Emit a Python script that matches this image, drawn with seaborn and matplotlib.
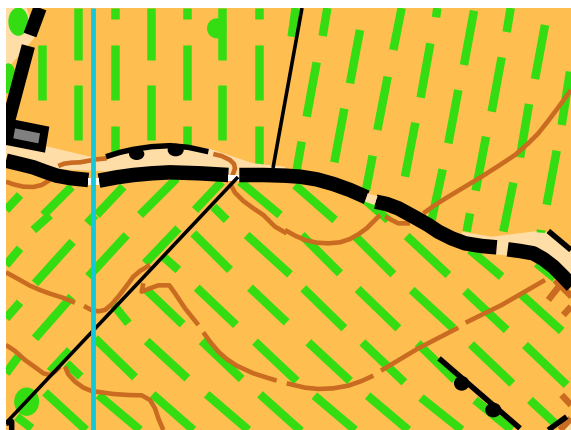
import matplotlib
matplotlib.use("Agg")
import matplotlib.pyplot as plt
import pandas as pd
import seaborn as sns
from matplotlib.patches import Polygon, Ellipse

Q1 = (0, 0); Q2 = (285, 0); Q3 = (0, 215); Q4 = (285, 215)

green_q1 = [(127,135,127,300),(235,24,235,180),(235,256,235,420),(344,24,344,57),(344,135,344,300),
            (344,378,344,470),(452,24,452,180),(452,256,452,420),(560,24,560,57),(560,135,560,300),
            (560,378,560,450),(667,24,667,180),(667,256,667,420),(776,24,776,57),(776,135,776,300),
            (776,378,776,500),(60,585,18,630),(215,560,130,645),(370,560,290,645),(530,535,420,645),
            (665,545,585,630),(640,620,680,660),(720,545,840,645)]
green_q2 = [(32,24,20,110),(127,24,113,108),(225,90,195,250),(350,24,325,150),(457,24,453,52),(567,32,537,195),
            (677,24,665,96),(780,75,750,237),(95,187,65,350),(308,230,277,390),(436,130,407,293),
            (650,172,620,335),(855,215,830,375),(178,326,148,487),(391,368,360,530),(520,270,490,430),
            (732,312,705,472),(50,425,35,510),(263,467,243,570),(603,410,572,572),(815,452,785,614),
            (473,508,440,660),(685,548,655,695),(555,640,545,695),(30,555,150,660),(240,600,310,660)]
green_q3 = [(150,0,100,45),(218,80,105,205),(380,60,265,185),(535,40,435,145),(60,100,18,150),
            (60,262,18,310),(215,245,105,370),(55,425,18,475),(210,405,150,470),(285,0,262,25),
            (580,55,690,165),(740,60,870,178),(590,218,708,330),(750,218,860,322),(440,225,548,328),
            (335,262,385,325),(490,125,535,165),(285,370,405,487),(440,378,562,490),(605,378,725,492),
            (765,380,890,498),(200,445,242,485),(135,532,258,645),(295,540,420,645),(458,538,580,645),
            (620,538,745,645),(780,538,905,650),(50,605,95,640)]
green_q4 = [(50,60,165,175),(212,65,325,178),(365,63,490,180),(555,105,650,185),(55,220,178,340),
            (218,222,340,340),(380,225,505,340),(540,228,665,345),(705,235,830,348),(70,382,195,498),
            (232,382,358,502),(398,385,510,495),(558,388,682,506),(720,390,845,510),(88,542,210,645),
            (248,542,370,645),(408,548,530,645),(570,555,680,645),(735,555,810,625),(755,145,810,190)]

road_q1 = [[(18,482),(60,492),(100,502),(135,515),(170,527),(215,535),(265,540)],
           [(297,542),(350,532),(400,525),(455,520),(510,517),(600,520),(685,525)],
           [(718,525),(790,525),(855,527),(900,530),(950,538),(1000,552),(1050,570),(1100,592)]]
road_q2 = [[(272,605),(305,612),(340,625),(395,655),(430,675),(460,695),(500,715),(540,730),(590,738),(635,742)]]
road_q4 = [[(668,103),(705,108),(745,115),(775,132),(805,155),(835,185),(870,222)]]
road_top_q1 = [[(120,24),(90,105)],[(85,138),(18,390)]]

brown_wide_q1 = [[(18,545),(40,553),(70,560),(100,561),(125,555),(150,540)],
                 [(175,498),(192,491),(215,488),(240,487),(262,483),(290,478),(320,475)],
                 [(640,462),(665,468),(690,480),(702,492),(705,505),(698,525),(690,545)],
                 [(690,550),(705,578),(730,603),(760,625),(790,645),(825,680),(860,700)]]
brown_wide_q2 = [[(415,640),(450,615),(490,590),(540,560),(590,530),(640,498),(690,465),(730,430),(760,400),
                  (790,362),(820,322),(858,270)]]
brown_wide_q3 = [[(195,455),(205,478),(225,500),(250,518),(275,528),(340,537),(385,540),(425,541),(450,555),
                  (465,580),(475,610),(490,645)],
                 [(252,273),(272,284),(295,289),(315,285),(335,268),(355,245),(378,215),(400,185),(420,168),(450,150)],
                 [(430,205),(425,230),(450,220),(475,211),(508,211),(525,235),(555,280),(595,330)],
                 [(610,352),(630,380),(655,410),(680,432),(710,452),(760,475),(830,497)],
                 [(18,172),(60,195),(90,212),(120,225),(150,236),(185,247),(225,263)],
                 [(18,390),(45,408),(75,435),(110,460),(130,475),(150,480),(165,470),(180,455)]]
brown_wide_q4 = [[(0,45),(30,62),(60,75),(95,83),(130,85),(165,82),(195,72),(220,58),(245,40),(265,20),(285,0)],
                 [(300,5),(340,25),(375,25)],
                 [(5,505),(60,518),(100,522),(145,520),(190,512),(230,498),(265,482)],
                 [(288,467),(400,400),(520,338)],[(542,323),(650,270),(780,195)]]
brown_thick_q4 = [[(810,195),(860,245)],[(825,210),(790,255)],[(858,275),(835,300)],
                  [(830,540),(858,570)],[(825,645),(858,610)]]

thin_black = [[(302,8),(273,168)],[(238,177),(6,423)]]
edge_q1 = [[(318,470),(360,457),(400,448),(455,440),(510,437),(565,442),(625,455)]]
edge_q4 = [[(462,430),(705,640)],[(790,48),(858,105)],[(790,645),(845,605)]]
edge_q3 = [[(18,625),(35,620),(35,645)]]

beige_q1 = [(18,24),(80,24),(105,110),(85,135),(18,210)]
beige_road_q1 = [(18,435),(145,440),(270,470),(320,480),(400,440),(510,430),(625,445),(760,490),(855,500),
                 (855,540),(18,500)]
beige_road_q4 = [(530,50),(620,65),(760,48),(810,55),(870,115),(870,200),(800,150),(700,125),(630,118),(540,90)]
beige_gap_q2 = [(248,580),(278,588),(268,615),(240,605)]
beige_corner_q4 = [(845,615),(860,605),(860,645),(835,645)]
green_sliver_q4 = [(755,43),(782,47),(780,54),(755,52)]
white_gaps_q1 = [[(265,535),(297,535),(297,556),(265,556)],[(685,525),(718,525),(718,542),(685,542)]]
building_q1 = [(48,360),(148,380),(135,458),(18,435),(18,365)]
roof_q1 = [(45,385),(120,400),(115,430),(40,415)]
blobs_q1 = [(55,65,60,85),(25,235,45,90),(650,85,58,60)]
blobs_q3 = [(80,560,75,85)]
bumps_q1 = [(410,462,46,36),(527,450,48,38)]
bumps_q4 = [(530,505,46,44),(625,585,48,44)]

ORANGE, GREEN, BEIGE = "#FFBE50", "#33DD11", "#FFDDA6"
BROWN, CYAN, BLACK, GREY = "#C96B20", "#14C8DC", "#000000", "#808080"


def conv(origin, p):
    return (origin[0] + p[0] / 3, origin[1] + p[1] / 3)


def frame(groups):
    rows = []
    for g, path in enumerate(groups):
        rows += [{"seg": g, "x": x, "y": y} for x, y in path]
    return pd.DataFrame(rows)


def draw(groups, color, px, z, cap="butt"):
    sns.lineplot(data=frame(groups), x="x", y="y", units="seg", estimator=None, sort=False,
                 color=color, linewidth=px * 0.72, solid_capstyle=cap, solid_joinstyle="round",
                 zorder=z, legend=False, ax=ax)


def zpaths(origin, paths):
    return [[conv(origin, p) for p in path] for path in paths]


def zdash(origin, dashes):
    return [[conv(origin, d[:2]), conv(origin, d[2:])] for d in dashes]


def poly(origin, pts, color, z):
    ax.add_patch(Polygon([conv(origin, p) for p in pts], closed=True, fc=color, ec="none", zorder=z))


def blob(origin, b, color, z):
    ax.add_patch(Ellipse(conv(origin, b[:2]), b[2] / 3, b[3] / 3, fc=color, ec="none", zorder=z))


sns.set_theme(style="white")
fig = plt.figure(figsize=(5.71, 4.30), dpi=100, facecolor="white")
ax = fig.add_axes([6 / 571, 0, 565 / 571, 422 / 430])
ax.set_facecolor(ORANGE)

for o, b in [(Q1, x) for x in blobs_q1] + [(Q3, x) for x in blobs_q3]:
    blob(o, b, GREEN, 1)

dashes = (zdash(Q1, green_q1) + zdash(Q2, green_q2) + zdash(Q3, green_q3) + zdash(Q4, green_q4))
draw(dashes, GREEN, 8.5, 2)

poly(Q1, beige_q1, BEIGE, 1.5)
for b in blobs_q1[:2]:
    blob(Q1, b, GREEN, 1.6)
poly(Q1, beige_road_q1, BEIGE, 3)
poly(Q4, beige_road_q4, BEIGE, 3)
poly(Q4, beige_corner_q4, BEIGE, 3)
poly(Q4, green_sliver_q4, GREEN, 3.5)
poly(Q2, beige_gap_q2, BEIGE, 6)
for w in white_gaps_q1:
    poly(Q1, w, "white", 6)

brown = (zpaths(Q1, brown_wide_q1) + zpaths(Q2, brown_wide_q2) + zpaths(Q3, brown_wide_q3)
         + zpaths(Q4, brown_wide_q4))
draw(brown, BROWN, 4.6, 4)
draw(zpaths(Q4, brown_thick_q4), BROWN, 6.5, 4)

draw(zpaths(Q1, road_q1) + zpaths(Q2, road_q2) + zpaths(Q4, road_q4), BLACK, 14.5, 5)
draw(zpaths(Q1, road_top_q1), BLACK, 13.5, 5)
draw(thin_black, BLACK, 3.6, 6)
draw(zpaths(Q1, edge_q1) + zpaths(Q4, edge_q4) + zpaths(Q3, edge_q3), BLACK, 5.5, 5)
for b in bumps_q1:
    blob(Q1, b, BLACK, 5)
for b in bumps_q4:
    blob(Q4, b, BLACK, 5)
poly(Q1, building_q1, BLACK, 5)
poly(Q1, roof_q1, GREY, 6)

draw([[(93, 8), (93, 430)]], CYAN, 4.8, 7)

ax.set_xlim(6, 571)
ax.set_ylim(430, 8)
ax.set_xticks([]); ax.set_yticks([])
ax.set_xlabel(""); ax.set_ylabel("")
for s in ax.spines.values():
    s.set_visible(False)
fig.savefig("out.png", dpi=100, facecolor="white")
